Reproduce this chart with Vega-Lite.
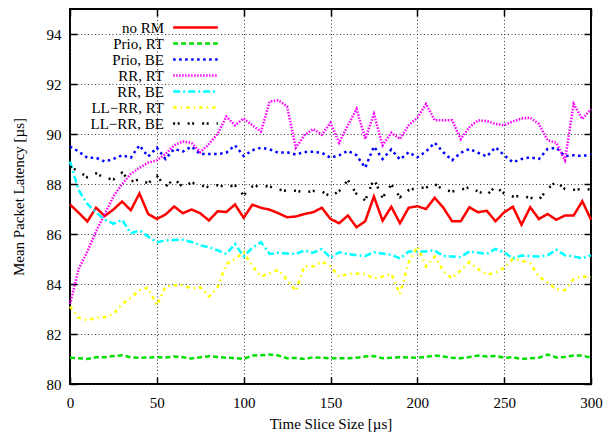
{
  "$schema": "https://vega.github.io/schema/vega-lite/v6.json",
  "autosize": {"type": "none"},
  "padding": {"left": 70, "top": 9, "right": 12, "bottom": 51},
  "width": 521,
  "height": 375,
  "background": "white",
  "config": {
    "font": "Liberation Serif",
    "view": {"stroke": "black", "strokeWidth": 2},
    "axis": {
      "labelFont": "Liberation Serif",
      "titleFont": "Liberation Serif",
      "labelFontSize": 15,
      "titleFontSize": 15,
      "titleFontWeight": "normal",
      "labelColor": "black",
      "titleColor": "black",
      "tickColor": "black",
      "tickWidth": 1.5,
      "tickSize": -7,
      "domain": false,
      "labelFlush": false,
      "gridColor": "#222",
      "gridDash": [1, 2.5],
      "gridWidth": 1,
      "gridOpacity": 0.9
    },
    "legend": {"labelFont": "Liberation Serif"}
  },
  "data": {"values": [
    {"x": 0, "no RM": 87.18, "Prio, RT": 81.05, "Prio, BE": 89.5, "RR, RT": 83.2, "RR, BE": 88.9, "LL−RR, RT": 83.1, "LL−RR, BE": 88.7},
    {"x": 5, "no RM": 86.85, "Prio, RT": 81.03, "Prio, BE": 89.3, "RR, RT": 84.6, "RR, BE": 87.75, "LL−RR, RT": 82.65, "LL−RR, BE": 88.5},
    {"x": 10, "no RM": 86.5, "Prio, RT": 81.0, "Prio, BE": 89.05, "RR, RT": 85.3, "RR, BE": 87.2, "LL−RR, RT": 82.55, "LL−RR, BE": 88.27},
    {"x": 15, "no RM": 87.05, "Prio, RT": 81.07, "Prio, BE": 89.05, "RR, RT": 86.1, "RR, BE": 86.87, "LL−RR, RT": 82.65, "LL−RR, BE": 88.42},
    {"x": 20, "no RM": 86.72, "Prio, RT": 81.07, "Prio, BE": 88.9, "RR, RT": 86.8, "RR, BE": 86.57, "LL−RR, RT": 82.67, "LL−RR, BE": 88.25},
    {"x": 25, "no RM": 86.98, "Prio, RT": 81.12, "Prio, BE": 89.0, "RR, RT": 87.5, "RR, BE": 86.41, "LL−RR, RT": 82.8, "LL−RR, BE": 88.18},
    {"x": 30, "no RM": 87.3, "Prio, RT": 81.15, "Prio, BE": 89.15, "RR, RT": 88.0, "RR, BE": 86.57, "LL−RR, RT": 83.2, "LL−RR, BE": 88.45},
    {"x": 35, "no RM": 86.95, "Prio, RT": 81.07, "Prio, BE": 89.05, "RR, RT": 88.4, "RR, BE": 86.03, "LL−RR, RT": 83.45, "LL−RR, BE": 88.1},
    {"x": 40, "no RM": 87.62, "Prio, RT": 81.05, "Prio, BE": 89.55, "RR, RT": 88.65, "RR, BE": 86.14, "LL−RR, RT": 83.75, "LL−RR, BE": 88.18},
    {"x": 45, "no RM": 86.8, "Prio, RT": 81.06, "Prio, BE": 89.1, "RR, RT": 88.85, "RR, BE": 85.9, "LL−RR, RT": 83.85, "LL−RR, BE": 88.03},
    {"x": 50, "no RM": 86.6, "Prio, RT": 81.07, "Prio, BE": 89.45, "RR, RT": 88.95, "RR, BE": 85.67, "LL−RR, RT": 83.15, "LL−RR, BE": 88.33},
    {"x": 55, "no RM": 86.78, "Prio, RT": 81.06, "Prio, BE": 89.0, "RR, RT": 89.2, "RR, BE": 85.74, "LL−RR, RT": 83.9, "LL−RR, BE": 87.9},
    {"x": 60, "no RM": 87.1, "Prio, RT": 81.1, "Prio, BE": 89.4, "RR, RT": 89.55, "RR, BE": 85.76, "LL−RR, RT": 83.95, "LL−RR, BE": 88.2},
    {"x": 65, "no RM": 86.83, "Prio, RT": 81.07, "Prio, BE": 89.3, "RR, RT": 89.7, "RR, BE": 85.77, "LL−RR, RT": 83.95, "LL−RR, BE": 87.88},
    {"x": 70, "no RM": 86.98, "Prio, RT": 81.02, "Prio, BE": 89.5, "RR, RT": 89.65, "RR, BE": 85.68, "LL−RR, RT": 83.82, "LL−RR, BE": 88.06},
    {"x": 75, "no RM": 86.83, "Prio, RT": 81.07, "Prio, BE": 89.2, "RR, RT": 89.27, "RR, BE": 85.55, "LL−RR, RT": 83.87, "LL−RR, BE": 87.95},
    {"x": 80, "no RM": 86.54, "Prio, RT": 81.11, "Prio, BE": 89.2, "RR, RT": 89.6, "RR, BE": 85.47, "LL−RR, RT": 83.5, "LL−RR, BE": 87.87},
    {"x": 85, "no RM": 86.91, "Prio, RT": 81.08, "Prio, BE": 89.2, "RR, RT": 90.0, "RR, BE": 85.35, "LL−RR, RT": 83.87, "LL−RR, BE": 87.95},
    {"x": 90, "no RM": 86.88, "Prio, RT": 81.05, "Prio, BE": 89.25, "RR, RT": 90.7, "RR, BE": 85.2, "LL−RR, RT": 84.8, "LL−RR, BE": 87.88},
    {"x": 95, "no RM": 87.18, "Prio, RT": 81.04, "Prio, BE": 89.55, "RR, RT": 90.35, "RR, BE": 85.6, "LL−RR, RT": 85.0, "LL−RR, BE": 87.95},
    {"x": 100, "no RM": 86.65, "Prio, RT": 81.0, "Prio, BE": 89.12, "RR, RT": 90.62, "RR, BE": 85.1, "LL−RR, RT": 85.27, "LL−RR, BE": 87.55},
    {"x": 105, "no RM": 87.17, "Prio, RT": 81.14, "Prio, BE": 89.35, "RR, RT": 90.35, "RR, BE": 85.45, "LL−RR, RT": 84.72, "LL−RR, BE": 87.9},
    {"x": 110, "no RM": 87.05, "Prio, RT": 81.15, "Prio, BE": 89.45, "RR, RT": 90.1, "RR, BE": 85.67, "LL−RR, RT": 84.3, "LL−RR, BE": 87.93},
    {"x": 115, "no RM": 86.97, "Prio, RT": 81.18, "Prio, BE": 89.38, "RR, RT": 91.3, "RR, BE": 85.2, "LL−RR, RT": 84.42, "LL−RR, BE": 87.9},
    {"x": 120, "no RM": 86.83, "Prio, RT": 81.14, "Prio, BE": 89.25, "RR, RT": 91.35, "RR, BE": 85.25, "LL−RR, RT": 84.57, "LL−RR, BE": 87.78},
    {"x": 125, "no RM": 86.67, "Prio, RT": 81.03, "Prio, BE": 89.27, "RR, RT": 91.1, "RR, BE": 85.22, "LL−RR, RT": 84.17, "LL−RR, BE": 87.72},
    {"x": 130, "no RM": 86.7, "Prio, RT": 81.04, "Prio, BE": 89.18, "RR, RT": 89.45, "RR, BE": 85.2, "LL−RR, RT": 83.72, "LL−RR, BE": 87.73},
    {"x": 135, "no RM": 86.8, "Prio, RT": 81.0, "Prio, BE": 89.28, "RR, RT": 89.95, "RR, BE": 85.34, "LL−RR, RT": 84.72, "LL−RR, BE": 87.67},
    {"x": 140, "no RM": 86.87, "Prio, RT": 81.07, "Prio, BE": 89.29, "RR, RT": 90.2, "RR, BE": 85.25, "LL−RR, RT": 84.7, "LL−RR, BE": 87.72},
    {"x": 145, "no RM": 87.05, "Prio, RT": 81.05, "Prio, BE": 89.25, "RR, RT": 89.97, "RR, BE": 85.4, "LL−RR, RT": 84.9, "LL−RR, BE": 87.7},
    {"x": 150, "no RM": 86.6, "Prio, RT": 81.03, "Prio, BE": 89.05, "RR, RT": 90.45, "RR, BE": 85.05, "LL−RR, RT": 84.7, "LL−RR, BE": 87.5},
    {"x": 155, "no RM": 86.43, "Prio, RT": 81.03, "Prio, BE": 89.15, "RR, RT": 89.65, "RR, BE": 85.27, "LL−RR, RT": 84.3, "LL−RR, BE": 87.72},
    {"x": 160, "no RM": 86.74, "Prio, RT": 81.03, "Prio, BE": 89.33, "RR, RT": 90.35, "RR, BE": 85.2, "LL−RR, RT": 84.4, "LL−RR, BE": 88.15},
    {"x": 165, "no RM": 86.27, "Prio, RT": 81.05, "Prio, BE": 89.15, "RR, RT": 91.0, "RR, BE": 85.15, "LL−RR, RT": 84.42, "LL−RR, BE": 87.6},
    {"x": 170, "no RM": 86.51, "Prio, RT": 81.1, "Prio, BE": 88.65, "RR, RT": 89.8, "RR, BE": 85.12, "LL−RR, RT": 84.4, "LL−RR, BE": 87.35},
    {"x": 175, "no RM": 87.5, "Prio, RT": 81.12, "Prio, BE": 89.5, "RR, RT": 90.8, "RR, BE": 85.27, "LL−RR, RT": 84.22, "LL−RR, BE": 88.2},
    {"x": 180, "no RM": 86.53, "Prio, RT": 81.03, "Prio, BE": 89.0, "RR, RT": 89.55, "RR, BE": 85.22, "LL−RR, RT": 84.3, "LL−RR, BE": 87.45},
    {"x": 185, "no RM": 87.09, "Prio, RT": 81.05, "Prio, BE": 89.38, "RR, RT": 90.05, "RR, BE": 85.17, "LL−RR, RT": 84.41, "LL−RR, BE": 87.98},
    {"x": 190, "no RM": 86.43, "Prio, RT": 81.07, "Prio, BE": 88.98, "RR, RT": 89.8, "RR, BE": 85.02, "LL−RR, RT": 83.6, "LL−RR, BE": 87.47},
    {"x": 195, "no RM": 87.05, "Prio, RT": 81.06, "Prio, BE": 89.27, "RR, RT": 90.35, "RR, BE": 85.3, "LL−RR, RT": 84.85, "LL−RR, BE": 87.75},
    {"x": 200, "no RM": 87.11, "Prio, RT": 81.05, "Prio, BE": 89.07, "RR, RT": 90.65, "RR, BE": 85.3, "LL−RR, RT": 85.5, "LL−RR, BE": 87.85},
    {"x": 205, "no RM": 87.0, "Prio, RT": 81.08, "Prio, BE": 89.3, "RR, RT": 91.2, "RR, BE": 85.3, "LL−RR, RT": 84.7, "LL−RR, BE": 87.85},
    {"x": 210, "no RM": 87.45, "Prio, RT": 81.14, "Prio, BE": 89.65, "RR, RT": 90.55, "RR, BE": 85.34, "LL−RR, RT": 85.1, "LL−RR, BE": 88.0},
    {"x": 215, "no RM": 87.05, "Prio, RT": 81.1, "Prio, BE": 89.27, "RR, RT": 90.55, "RR, BE": 85.12, "LL−RR, RT": 84.52, "LL−RR, BE": 87.77},
    {"x": 220, "no RM": 86.51, "Prio, RT": 81.05, "Prio, BE": 88.95, "RR, RT": 90.55, "RR, BE": 85.1, "LL−RR, RT": 84.22, "LL−RR, BE": 87.7},
    {"x": 225, "no RM": 86.51, "Prio, RT": 81.03, "Prio, BE": 89.25, "RR, RT": 89.8, "RR, BE": 85.08, "LL−RR, RT": 84.55, "LL−RR, BE": 87.77},
    {"x": 230, "no RM": 87.07, "Prio, RT": 81.08, "Prio, BE": 89.4, "RR, RT": 90.27, "RR, BE": 85.3, "LL−RR, RT": 84.88, "LL−RR, BE": 87.87},
    {"x": 235, "no RM": 86.87, "Prio, RT": 81.14, "Prio, BE": 89.25, "RR, RT": 90.55, "RR, BE": 85.25, "LL−RR, RT": 84.6, "LL−RR, BE": 87.7},
    {"x": 240, "no RM": 86.93, "Prio, RT": 81.1, "Prio, BE": 89.1, "RR, RT": 90.52, "RR, BE": 85.2, "LL−RR, RT": 84.38, "LL−RR, BE": 87.56},
    {"x": 245, "no RM": 86.51, "Prio, RT": 81.12, "Prio, BE": 89.47, "RR, RT": 90.4, "RR, BE": 85.4, "LL−RR, RT": 84.45, "LL−RR, BE": 87.9},
    {"x": 250, "no RM": 86.87, "Prio, RT": 81.05, "Prio, BE": 89.15, "RR, RT": 90.35, "RR, BE": 85.27, "LL−RR, RT": 84.65, "LL−RR, BE": 87.62},
    {"x": 255, "no RM": 87.09, "Prio, RT": 81.07, "Prio, BE": 88.87, "RR, RT": 90.5, "RR, BE": 85.02, "LL−RR, RT": 85.0, "LL−RR, BE": 87.5},
    {"x": 260, "no RM": 86.37, "Prio, RT": 81.0, "Prio, BE": 89.0, "RR, RT": 90.62, "RR, BE": 85.14, "LL−RR, RT": 84.95, "LL−RR, BE": 87.52},
    {"x": 265, "no RM": 87.07, "Prio, RT": 81.03, "Prio, BE": 89.07, "RR, RT": 90.65, "RR, BE": 85.12, "LL−RR, RT": 84.82, "LL−RR, BE": 87.45},
    {"x": 270, "no RM": 86.6, "Prio, RT": 81.05, "Prio, BE": 89.0, "RR, RT": 90.4, "RR, BE": 85.1, "LL−RR, RT": 84.3, "LL−RR, BE": 87.37},
    {"x": 275, "no RM": 86.8, "Prio, RT": 81.18, "Prio, BE": 89.4, "RR, RT": 89.75, "RR, BE": 85.15, "LL−RR, RT": 84.05, "LL−RR, BE": 87.8},
    {"x": 280, "no RM": 86.57, "Prio, RT": 81.06, "Prio, BE": 89.45, "RR, RT": 89.65, "RR, BE": 85.37, "LL−RR, RT": 83.8, "LL−RR, BE": 88.1},
    {"x": 285, "no RM": 86.74, "Prio, RT": 81.08, "Prio, BE": 89.11, "RR, RT": 88.95, "RR, BE": 85.15, "LL−RR, RT": 83.75, "LL−RR, BE": 87.8},
    {"x": 290, "no RM": 86.74, "Prio, RT": 81.14, "Prio, BE": 89.15, "RR, RT": 91.2, "RR, BE": 85.1, "LL−RR, RT": 84.2, "LL−RR, BE": 87.77},
    {"x": 295, "no RM": 87.31, "Prio, RT": 81.14, "Prio, BE": 89.12, "RR, RT": 90.6, "RR, BE": 85.03, "LL−RR, RT": 84.3, "LL−RR, BE": 87.8},
    {"x": 300, "no RM": 86.57, "Prio, RT": 81.05, "Prio, BE": 89.18, "RR, RT": 91.0, "RR, BE": 85.15, "LL−RR, RT": 84.27, "LL−RR, BE": 87.78}
  ]},
  "transform": [
    {"fold": ["no RM", "Prio, RT", "Prio, BE", "RR, RT", "RR, BE", "LL−RR, RT", "LL−RR, BE"], "as": ["series", "value"]}
  ],
  "layer": [
    {
      "mark": {"type": "line", "strokeWidth": 2.5},
      "encoding": {
        "x": {"field": "x", "type": "quantitative",
              "scale": {"domain": [0, 300], "nice": false},
              "axis": {"orient": "bottom", "values": [0, 50, 100, 150, 200, 250, 300], "grid": true,
                       "labelFont": "Liberation Serif", "titleFont": "Liberation Serif",
                       "labelPadding": 18, "title": "Time Slice Size [µs]", "titlePadding": 6}},
        "y": {"field": "value", "type": "quantitative",
              "scale": {"domain": [80, 95], "nice": false, "zero": false},
              "axis": {"orient": "left", "values": [80, 82, 84, 86, 88, 90, 92, 94], "grid": true,
                       "labelFont": "Liberation Serif", "titleFont": "Liberation Serif",
                       "labelPadding": 16, "title": "Mean Packet Latency [µs]", "titlePadding": 20}},
        "color": {"field": "series", "type": "nominal",
                  "scale": {"domain": ["no RM", "Prio, RT", "Prio, BE", "RR, RT", "RR, BE", "LL−RR, RT", "LL−RR, BE"],
                            "range": ["#ff0000", "#00e000", "#0000ff", "#ff00ff", "#00ffff", "#ffff00", "#000000"]},
                  "legend": {"orient": "none", "legendX": 118, "legendY": 11, "title": null,
                             "symbolType": "M-4,0H4", "symbolSize": 125, "symbolStrokeWidth": 2.5,
                             "symbolFillColor": "transparent",
                             "labelAlign": "right", "labelOffset": -39, "labelFontSize": 15,
                             "labelFont": "Liberation Serif", "labelColor": "black", "labelLimit": 0,
                             "rowPadding": -0.5, "padding": 0}},
        "strokeDash": {"field": "series", "type": "nominal",
                       "scale": {"domain": ["no RM", "Prio, RT", "Prio, BE", "RR, RT", "RR, BE", "LL−RR, RT", "LL−RR, BE"],
                                 "range": [[1, 0], [5, 3], [2.5, 3.5], [1.5, 1.5], [7, 3, 2, 3], [3.5, 4, 1.5, 4], [2, 2.5, 2, 8]]},
                       "legend": {"orient": "none", "legendX": 118, "legendY": 11, "title": null,
                             "symbolType": "M-4,0H4", "symbolSize": 125, "symbolStrokeWidth": 2.5,
                             "symbolFillColor": "transparent",
                             "labelAlign": "right", "labelOffset": -39, "labelFontSize": 15,
                             "labelFont": "Liberation Serif", "labelColor": "black", "labelLimit": 0,
                             "rowPadding": -0.5, "padding": 0}}
      }
    },
    {
      "mark": {"type": "line", "opacity": 0},
      "encoding": {
        "x": {"field": "x", "type": "quantitative",
              "axis": {"orient": "top", "values": [0, 50, 100, 150, 200, 250, 300], "labels": false, "grid": false, "title": null}},
        "y": {"field": "value", "type": "quantitative",
              "axis": {"orient": "right", "values": [80, 82, 84, 86, 88, 90, 92, 94], "labels": false, "grid": false, "title": null}},
        "detail": {"field": "series"}
      }
    }
  ],
  "resolve": {"axis": {"x": "independent", "y": "independent"}}
}
